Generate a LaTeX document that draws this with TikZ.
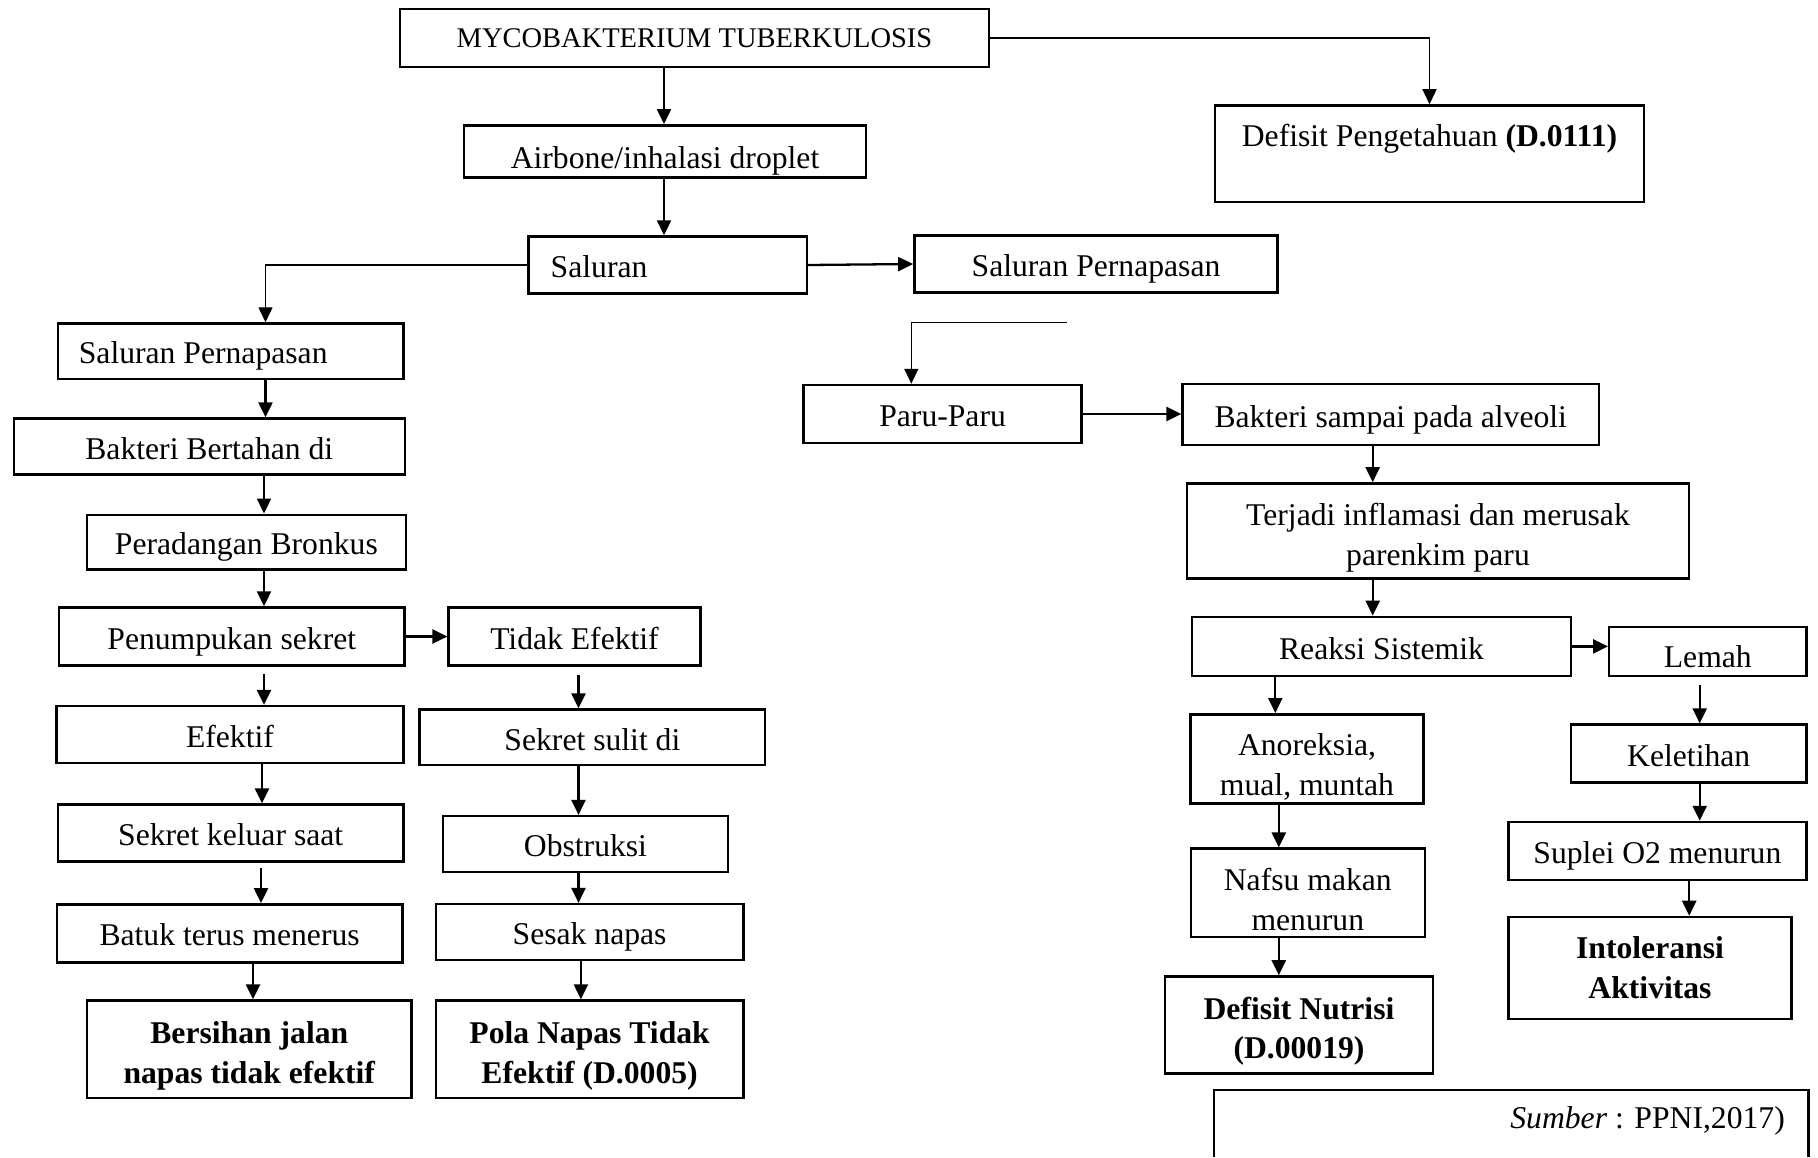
\documentclass[tikz,border=0pt]{standalone}
\usepackage{fontspec}
\setmainfont{Liberation Serif}
\usetikzlibrary{arrows.meta}
\begin{document}
\begin{tikzpicture}[x=0.01cm,y=-0.01cm]
	\tikzstyle{panah}=[-{Triangle[length=0.15cm,width=0.14cm]},line width=0.65pt]
	\tikzstyle{garis}=[-{Triangle[length=0.15cm,width=0.14cm]},line width=0.4pt]
	\tikzset{kotak/.style={draw,line width=0.7pt,inner sep=0pt,align=center,font=\fontsize{9}{11.3}\selectfont},satu/.style={kotak,text height=7.7pt,text depth=0.5pt},tebal/.style={kotak,font=\fontsize{9}{11.3}\selectfont\bfseries}}
	\useasboundingbox (0,0) rectangle (1818,1157);
	% bagian atas
	\node[kotak,minimum width=5.89cm,minimum height=0.58cm,font=\fontsize{8.1}{10}\selectfont] (myco) at (694.5,38) {MYCOBAKTERIUM TUBERKULOSIS};
	\node[kotak,minimum width=4.29cm,minimum height=0.962cm,inner ysep=0pt,text height=0.405cm,text depth=0.557cm] (pengetahuan) at (1429.5,153.6) {Defisit Pengetahuan \textbf{(D.0111)}};
	\node[satu,minimum width=4.02cm,minimum height=0.52cm,text height=10pt,text depth=0.3pt] (airbone) at (665,151.3) {Airbone/inhalasi droplet};
	\node[satu,minimum width=2.78cm,minimum height=0.57cm,text width=2.34cm,inner xsep=0.22cm,align=flush left] (saluran) at (667.8,265) {Saluran};
	\node[satu,minimum width=3.63cm,minimum height=0.57cm] (napasKanan) at (1096,264) {Saluran Pernapasan};
	\node[satu,minimum width=3.455cm,minimum height=0.556cm,text width=3.035cm,inner xsep=0.21cm,align=flush left] (napasKiri) at (230.7,351.3) {Saluran Pernapasan};
	\coordinate (ujung) at (1066.6,322.3);
	% cabang kanan
	\node[satu,minimum width=2.78cm,minimum height=0.58cm] (paru) at (942.6,414) {Paru-Paru};
	\node[satu,minimum width=4.16cm,minimum height=0.61cm] (alveoli) at (1390.7,414.5) {Bakteri sampai pada alveoli};
	\node[kotak,minimum width=5.02cm,minimum height=0.95cm] (inflamasi) at (1438,531) {\rule{0pt}{10.2pt}Terjadi inflamasi dan merusak\\parenkim paru};
	\node[satu,minimum width=3.79cm,minimum height=0.59cm] (sistemik) at (1381.5,646.4) {Reaksi Sistemik};
	\node[kotak,minimum width=1.97cm,minimum height=0.488cm,inner ysep=0pt,text height=0.398cm,text depth=0.09cm] (lemah) at (1707.8,651.6) {Lemah};
	\node[kotak,minimum width=2.33cm,minimum height=0.89cm] (anoreksia) at (1307,758.8) {\rule{0pt}{10.8pt}Anoreksia,\\mual, muntah};
	\node[kotak,minimum width=2.34cm,minimum height=0.88cm] (nafsu) at (1307.8,892.7) {\rule{0pt}{10.2pt}Nafsu makan\\menurun};
	\node[tebal,minimum width=2.68cm,minimum height=0.97cm] (nutrisi) at (1299,1025) {\rule{0pt}{9.8pt}Defisit Nutrisi\\(D.00019)};
	\node[satu,minimum width=2.35cm,minimum height=0.58cm] (letih) at (1688.7,753.6) {Keletihan};
	\node[satu,minimum width=2.98cm,minimum height=0.58cm] (suplei) at (1657.4,851) {Suplei O2 menurun};
	\node[tebal,minimum width=2.83cm,minimum height=1.02cm] (intoleransi) at (1650,968) {Intoleransi\\Aktivitas};
	\node[font=\fontsize{9}{11}\selectfont,anchor=east,inner sep=0pt] (sumber) at (1785.5,1121) {\textit{Sumber} : PPNI,2017)};
	\draw[line width=0.7pt] (1213.9,1157) |- (1808.7,1089.8) -- (1808.7,1157);
	% cabang kiri
	\node[satu,minimum width=3.907cm,minimum height=0.557cm] (bertahan) at (209.3,446.4) {Bakteri Bertahan di};
	\node[satu,minimum width=3.19cm,minimum height=0.545cm] (radang) at (246.4,542) {Peradangan Bronkus};
	\node[satu,minimum width=3.456cm,minimum height=0.58cm] (tumpuk) at (231.8,636.5) {Penumpukan sekret};
	\node[satu,minimum width=2.516cm,minimum height=0.58cm] (tidak) at (574.5,636.5) {Tidak Efektif};
	\node[satu,minimum width=3.466cm,minimum height=0.57cm] (efektif) at (230,734.6) {Efektif};
	\node[satu,minimum width=3.455cm,minimum height=0.568cm] (keluar) at (230.7,833) {Sekret keluar saat};
	\node[satu,minimum width=3.455cm,minimum height=0.58cm] (batuk) at (229.6,933.3) {Batuk terus menerus};
	\node[tebal,minimum width=3.246cm,minimum height=0.974cm] (bersihan) at (249.3,1049.3) {\rule{0pt}{9.9pt}Bersihan jalan\\napas tidak efektif};
	\node[satu,minimum width=3.455cm,minimum height=0.556cm] (sulit) at (592.4,737.4) {Sekret sulit di};
	\node[satu,minimum width=2.85cm,minimum height=0.557cm] (obstruksi) at (585.5,844) {Obstruksi};
	\node[satu,minimum width=3.072cm,minimum height=0.557cm] (sesak) at (589.6,932) {Sesak napas};
	\node[tebal,minimum width=3.072cm,minimum height=0.974cm] (pola) at (589.6,1049.3) {\rule{0pt}{9.9pt}Pola Napas Tidak\\Efektif (D.0005)};
	% panah
	\draw[garis] (myco.east) -| (pengetahuan.north);
	\draw[panah] (myco.south -| 664,0) -- (airbone.north -| 664,0);
	\draw[panah] (airbone.south -| 664,0) -- (saluran.north -| 664,0);
	\draw[panah] (saluran.east) -- (napasKanan.west);
	\draw[garis] (saluran.west) -| (napasKiri.north -| 265.5,0);
	\draw[garis] (ujung) -| (paru.north -| 911.3,0);
	\draw[panah] (paru.east) -- (paru.east -| alveoli.west);
	\draw[panah] (alveoli.south -| 1372.7,0) -- (inflamasi.north -| 1372.7,0);
	\draw[panah] (inflamasi.south -| 1372.7,0) -- (sistemik.north -| 1372.7,0);
	\draw[panah] (sistemik.east) -- (sistemik.east -| lemah.west);
	\draw[panah] (sistemik.south -| 1275.3,0) -- (anoreksia.north -| 1275.3,0);
	\draw[panah] (anoreksia.south -| 1278.8,0) -- (nafsu.north -| 1278.8,0);
	\draw[panah] (nafsu.south -| 1278.8,0) -- (nutrisi.north -| 1278.8,0);
	\draw[panah,shorten <=0.08cm] (lemah.south -| 1699.7,0) -- (letih.north -| 1699.7,0);
	\draw[panah] (letih.south -| 1699.7,0) -- (suplei.north -| 1699.7,0);
	\draw[panah] (suplei.south -| 1689.2,0) -- (intoleransi.north -| 1689.2,0);
	\draw[panah] (napasKiri.south -| 265.5,0) -- (bertahan.north -| 265.5,0);
	\draw[panah] (bertahan.south -| 264,0) -- (radang.north -| 264,0);
	\draw[panah] (radang.south -| 264,0) -- (tumpuk.north -| 264,0);
	\draw[panah] (tumpuk.east) -- (tidak.west);
	\draw[panah,shorten <=0.07cm] (tumpuk.south -| 264,0) -- (efektif.north -| 264,0);
	\draw[panah] (efektif.south -| 262,0) -- (keluar.north -| 262,0);
	\draw[panah,shorten <=0.05cm] (keluar.south -| 261,0) -- (batuk.north -| 261,0);
	\draw[panah] (batuk.south -| 253,0) -- (bersihan.north -| 253,0);
	\draw[panah,shorten <=0.08cm] (tidak.south -| 578.5,0) -- (sulit.north -| 578.5,0);
	\draw[panah] (sulit.south -| 578.5,0) -- (obstruksi.north -| 578.5,0);
	\draw[panah] (obstruksi.south -| 578.5,0) -- (sesak.north -| 578.5,0);
	\draw[panah] (sesak.south -| 580.9,0) -- (pola.north -| 580.9,0);
\end{tikzpicture}
\end{document}
